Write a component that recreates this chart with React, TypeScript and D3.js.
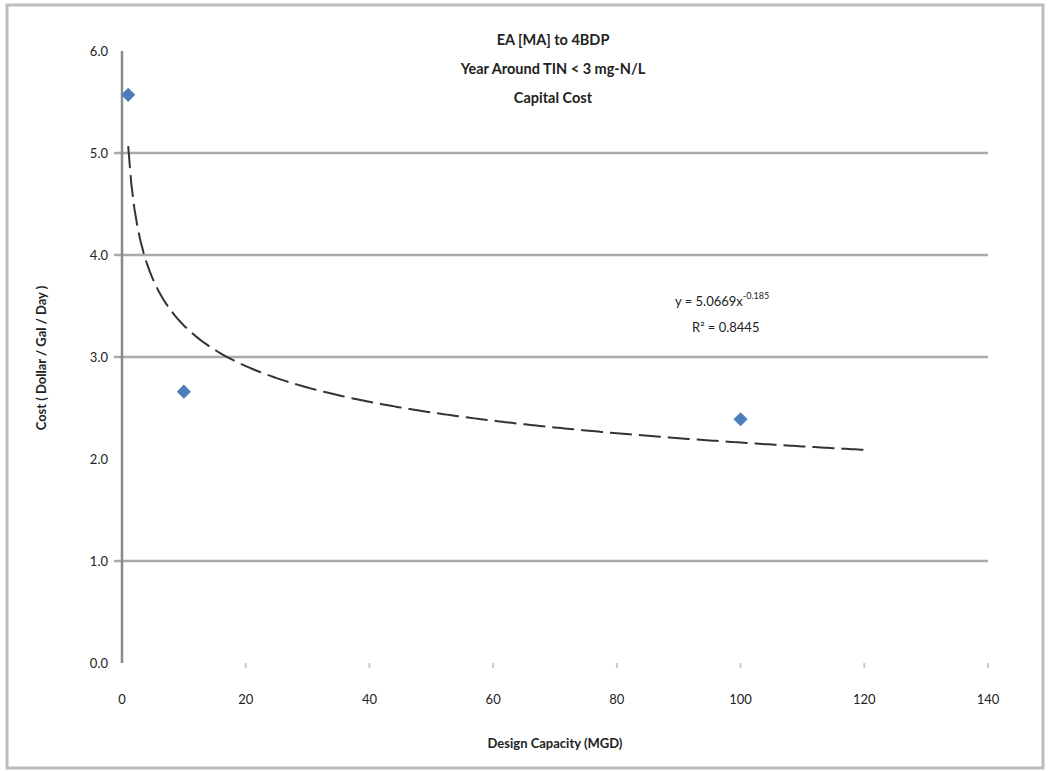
import React from "react";
import * as d3 from "d3";

const titleLines = ["EA [MA] to 4BDP", "Year Around TIN < 3 mg-N/L", "Capital Cost"];
const capacity = [1, 10, 100];
const cost = [5.57, 2.66, 2.39];
const xTicks = [0, 20, 40, 60, 80, 100, 120, 140];
const yTicks = [0, 1, 2, 3, 4, 5, 6];
const gridValues = [1, 3, 4, 5];
const trendA = 5.0669;
const trendB = -0.185;
const trendRange = [1, 120];
const eqText = "y = 5.0669x";
const eqExp = "-0.185";
const r2Text = "R² = 0.8445";

export default function App() {
  const W = 1048, H = 771;
  const x = d3.scaleLinear().domain([0, 140]).range([122, 988]);
  const y = d3.scaleLinear().domain([0, 6]).range([663, 51]);
  const font = "Lato, 'Open Sans', sans-serif";

  const trendPts: [number, number][] = [];
  for (let v = trendRange[0]; v <= trendRange[1]; v += 0.5) {
    trendPts.push([v, trendA * Math.pow(v, trendB)]);
  }
  const line = d3.line<[number, number]>().x(d => x(d[0])).y(d => y(d[1]));
  const diamond = d3.symbol().type(d3.symbolSquare).size(100)();

  return (
    <svg width={W} height={H} style={{ position: "absolute", left: 0, top: 0, background: "#fff" }}>
      <rect x={7} y={5} width={1036} height={763} fill="#fff" stroke="#bdbdbd" strokeWidth={3} />
      {gridValues.map(g => (
        <line key={g} x1={114} x2={988} y1={y(g)} y2={y(g)} stroke="#aaaaaa" strokeWidth={2.5} />
      ))}
      <line x1={x(0)} x2={x(0)} y1={y(6)} y2={y(0)} stroke="#8a8a8a" strokeWidth={2.5} />
      {xTicks.filter(t => t > 0).map(t => (
        <line key={t} x1={x(t)} x2={x(t)} y1={y(0)} y2={y(0) + 5} stroke="#c8c8c8" strokeWidth={2} />
      ))}
      {yTicks.map(t => (
        <text key={t} x={108} y={y(t) + 5} textAnchor="end" fontFamily={font} fontSize={13} fill="#222">
          {t.toFixed(1)}
        </text>
      ))}
      {xTicks.map(t => (
        <text key={t} x={x(t)} y={704} textAnchor="middle" fontFamily={font} fontSize={13} fill="#222">
          {t}
        </text>
      ))}
      <path d={line(trendPts) || ""} fill="none" stroke="#333" strokeWidth={2} strokeDasharray="22,7" />
      {capacity.map((c, i) => (
        <path key={i} d={diamond || ""} transform={`translate(${x(c)},${y(cost[i])}) rotate(45)`} fill="#4a7ebb" />
      ))}
      {titleLines.map((t, i) => (
        <text key={i} x={553} y={45 + i * 29} textAnchor="middle" fontFamily={font} fontSize={14.5} fontWeight="bold" fill="#222">
          {t}
        </text>
      ))}
      <text x={675} y={306} fontFamily={font} fontSize={13} fill="#222">
        {eqText}
        <tspan dy={-7} fontSize={9}>{eqExp}</tspan>
      </text>
      <text x={692} y={332} fontFamily={font} fontSize={13} fill="#222">{r2Text}</text>
      <text x={555} y={748} textAnchor="middle" fontFamily={font} fontSize={13} fontWeight="bold" fill="#222">
        Design Capacity (MGD)
      </text>
      <text transform={`translate(46,358) rotate(-90)`} textAnchor="middle" fontFamily={font} fontSize={13} fontWeight="bold" fill="#222">
        Cost ( Dollar / Gal / Day )
      </text>
    </svg>
  );
}
